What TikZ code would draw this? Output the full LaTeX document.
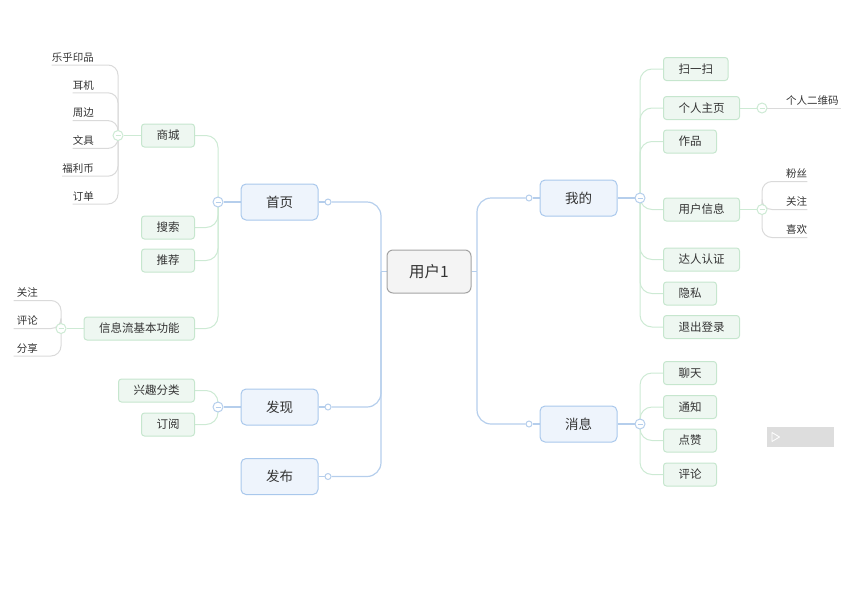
\documentclass[tikz,border=0pt]{standalone}
\usepackage{fontspec}
\setmainfont{Noto Sans CJK SC}
\usetikzlibrary{backgrounds}
\definecolor{bfill}{HTML}{EEF4FC}
\definecolor{bdraw}{HTML}{A9C8EC}
\definecolor{bline}{HTML}{B5CEEC}
\definecolor{gfill}{HTML}{EEF7F1}
\definecolor{gdraw}{HTML}{C6E6CE}
\definecolor{gline}{HTML}{CDEAD4}
\definecolor{lline}{HTML}{DADADA}
\definecolor{rfill}{HTML}{F4F4F4}
\definecolor{rdraw}{HTML}{A3A3A3}
\definecolor{txt}{HTML}{333333}
\definecolor{panel}{HTML}{DDDDDD}
\tikzset{
 rootbox/.style={draw=rdraw, fill=rfill, line width=1pt, rounded corners=6pt, minimum width=84pt, minimum height=43pt, inner sep=0pt, font=\fontsize{15.5}{18}\selectfont, text=txt},
 mainbox/.style={draw=bdraw, fill=bfill, line width=1pt, rounded corners=5pt, minimum width=77pt, minimum height=36pt, inner sep=0pt, font=\fontsize{13.5}{16}\selectfont, text=txt},
 subbox/.style={draw=gdraw, fill=gfill, line width=1pt, rounded corners=3pt, minimum height=23pt, inner xsep=15pt, inner ysep=0pt, font=\fontsize{11.5}{14}\selectfont, text=txt},
 leaf/.style={inner xsep=0pt, inner ysep=2.5pt, font=\fontsize{10.5}{12}\selectfont, text=txt},
 bdot/.style={circle, draw=bline, fill=white, line width=1pt, minimum size=6pt, inner sep=0pt},
 bcol/.style={circle, draw=bline, fill=white, line width=1pt, minimum size=10pt, inner sep=0pt,
   path picture={\draw[bline, line width=0.8pt] ([xshift=-2.5pt]path picture bounding box.center) -- ([xshift=2.5pt]path picture bounding box.center);}},
 gcol/.style={circle, draw=gline, fill=white, line width=1pt, minimum size=10pt, inner sep=0pt,
   path picture={\draw[gline, line width=0.8pt] ([xshift=-2.5pt]path picture bounding box.center) -- ([xshift=2.5pt]path picture bounding box.center);}},
 bconn/.style={draw=bline, line width=1.2pt, rounded corners=14pt},
 gconn/.style={draw=gline, line width=1pt, rounded corners=12pt},
 lconn/.style={draw=lline, line width=1pt, rounded corners=10pt},
}
\begin{document}
\begin{tikzpicture}[x=1pt, y=-1pt]
\useasboundingbox (0,0) rectangle (865,600);
% root
\node[rootbox] (root) at (429,271.5) {用户1};
\coordinate (tL) at (381,271.5);
\coordinate (tR) at (477,271.5);
% level 1
\node[mainbox] (shouye) at (279.5,202) {首页};
\node[mainbox] (faxian) at (279.5,407) {发现};
\node[mainbox] (fabu) at (279.5,476.5) {发布};
\node[mainbox] (wode) at (578.5,198) {我的};
\node[mainbox] (xiaoxi) at (578.5,424) {消息};
\node[bdot] (dshouye) at (328,202) {};
\node[bdot] (dfaxian) at (328,407) {};
\node[bdot] (dfabu) at (328,476.5) {};
\node[bdot] (dwode) at (529,198) {};
\node[bdot] (dxiaoxi) at (529,424) {};
\node[bcol] (cshouye) at (218,202) {};
\node[bcol] (cfaxian) at (218,407) {};
\node[bcol] (cwode) at (640,198) {};
\node[bcol] (cxiaoxi) at (640,424) {};
% level 2 left
\node[subbox, anchor=east] (shangcheng) at (195,135.5) {商城};
\node[subbox, anchor=east] (sousuo) at (195,227.5) {搜索};
\node[subbox, anchor=east] (tuijian) at (195,260.5) {推荐};
\node[subbox, anchor=east] (xinxi) at (195,328.5) {信息流基本功能};
\node[subbox, anchor=east] (xingqu) at (195,390.5) {兴趣分类};
\node[subbox, anchor=east] (dingyue) at (195,424.5) {订阅};
\node[gcol] (cshang) at (118,135.5) {};
\node[gcol] (cxinxi) at (61,328.5) {};
% level 2 right
\node[subbox, anchor=west] (saoyisao) at (663,69) {扫一扫};
\node[subbox, anchor=west] (geren) at (663,108) {个人主页};
\node[subbox, anchor=west] (zuopin) at (663,141.5) {作品};
\node[subbox, anchor=west] (yonghu) at (663,209.5) {用户信息};
\node[subbox, anchor=west] (daren) at (663,259.5) {达人认证};
\node[subbox, anchor=west] (yinsi) at (663,293.5) {隐私};
\node[subbox, anchor=west] (tuichu) at (663,327) {退出登录};
\node[subbox, anchor=west] (liaotian) at (663,373) {聊天};
\node[subbox, anchor=west] (tongzhi) at (663,407) {通知};
\node[subbox, anchor=west] (dianzan) at (663,440.5) {点赞};
\node[subbox, anchor=west] (pinglun) at (663,474.5) {评论};
\node[gcol] (cgeren) at (762,108) {};
\node[gcol] (cyonghu) at (762,209.5) {};
% leaves
\node[leaf, anchor=south east] (l1) at (94,65) {乐乎印品};
\node[leaf, anchor=south east] (l2) at (94,92.8) {耳机};
\node[leaf, anchor=south east] (l3) at (94,120.6) {周边};
\node[leaf, anchor=south east] (l4) at (94,148.4) {文具};
\node[leaf, anchor=south east] (l5) at (94,176.2) {福利币};
\node[leaf, anchor=south east] (l6) at (94,204) {订单};
\node[leaf, anchor=south east] (x1) at (38,300.5) {关注};
\node[leaf, anchor=south east] (x2) at (38,328.5) {评论};
\node[leaf, anchor=south east] (x3) at (38,356) {分享};
\node[leaf, anchor=south west] (g1) at (786,108) {个人二维码};
\node[leaf, anchor=south west] (y1) at (786,181.5) {粉丝};
\node[leaf, anchor=south west] (y2) at (786,209.5) {关注};
\node[leaf, anchor=south west] (y3) at (786,237.5) {喜欢};
% panel
\fill[panel] (767,427) rectangle (834,447);
\draw[white, line width=0.8pt, line join=round] (772,432.5) -- (779.5,437) -- (772,441.5) -- cycle;
\begin{pgfonlayer}{background}
 % blue trunk
 \draw[bconn] (dshouye.east) -| (tL);
 \draw[bconn] (dfaxian.east) -| (tL);
 \draw[bconn] (dfabu.east) -| (tL);
 \draw[bconn] (root.west) -- (tL);
 \draw[bconn] (dwode.west) -| (tR);
 \draw[bconn] (dxiaoxi.west) -| (tR);
 \draw[bconn] (root.east) -- (tR);
 \draw[bconn] (shouye.east) -- (dshouye.west);
 \draw[bconn] (faxian.east) -- (dfaxian.west);
 \draw[bconn] (fabu.east) -- (dfabu.west);
 \draw[bconn] (wode.west) -- (dwode.east);
 \draw[bconn] (xiaoxi.west) -- (dxiaoxi.east);
 \draw[bconn] (shouye.west) -- (cshouye.east);
 \draw[bconn] (faxian.west) -- (cfaxian.east);
 \draw[bconn] (wode.east) -- (cwode.west);
 \draw[bconn] (xiaoxi.east) -- (cxiaoxi.west);
 % green branches
 \foreach \n in {shangcheng,sousuo,tuijian,xinxi} \draw[gconn] (cshouye.center) |- (\n.east);
 \foreach \n in {xingqu,dingyue} \draw[gconn] (cfaxian.center) |- (\n.east);
 \foreach \n in {saoyisao,geren,zuopin,yonghu,daren,yinsi,tuichu} \draw[gconn] (cwode.center) |- (\n.west);
 \foreach \n in {liaotian,tongzhi,dianzan,pinglun} \draw[gconn] (cxiaoxi.center) |- (\n.west);
 \draw[gconn] (shangcheng.west) -- (cshang.east);
 \draw[gconn] (xinxi.west) -- (cxinxi.east);
 \draw[gconn] (geren.east) -- (cgeren.west);
 \draw[gconn] (yonghu.east) -- (cyonghu.west);
 % leaf lines
 \foreach \n in {l1,l2,l3,l4,l5,l6} \draw[lconn] (cshang.center) |- (\n.south west);
 \foreach \n in {x1,x2,x3} \draw[lconn] (cxinxi.center) |- ([xshift=-3pt]\n.south west);
 \draw[lconn] (cgeren.center) -- ([xshift=2pt]g1.south east);
 \foreach \n in {y1,y2,y3} \draw[lconn] (cyonghu.center) |- (\n.south east);
\end{pgfonlayer}
\end{tikzpicture}
\end{document}
